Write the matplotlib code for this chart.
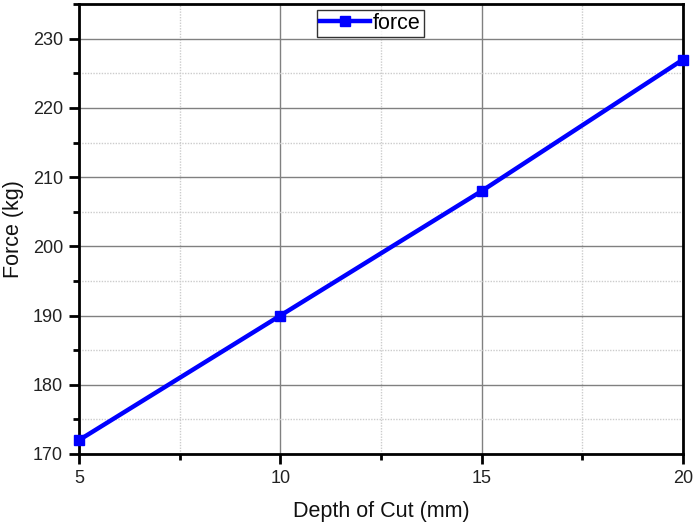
import matplotlib
matplotlib.use("Agg")
import matplotlib.pyplot as plt
from matplotlib.ticker import MultipleLocator

depth = [5, 10, 15, 20]
force = [172, 190, 208, 227]

plt.rcParams['font.family'] = ['Liberation Sans', 'DejaVu Sans']

fig = plt.figure(figsize=(6.93, 5.23), dpi=100)
ax = fig.add_axes([0.114, 0.132, 0.8716, 0.860])

ax.plot(depth, force, color='#0000ff', lw=3.2, marker='s', ms=7, label='force', clip_on=False, zorder=3)

ax.set_xlim(5, 20)
ax.set_ylim(170, 235)
ax.xaxis.set_major_locator(MultipleLocator(5))
ax.xaxis.set_minor_locator(MultipleLocator(2.5))
ax.yaxis.set_major_locator(MultipleLocator(10))
ax.yaxis.set_minor_locator(MultipleLocator(5))

ax.grid(which='major', color='#808080', lw=1.0, ls='-')
ax.grid(which='minor', color='#cccccc', lw=1.0, ls=(0, (1, 1)))
ax.set_axisbelow(True)

for s in ax.spines.values():
    s.set_linewidth(2.0)
    s.set_color('black')

ax.tick_params(which='major', direction='out', length=7.5, width=2, labelsize=13, labelcolor='#222222',
               colors='black', top=False, right=False, pad=4)
ax.tick_params(which='minor', direction='out', length=4, width=2, top=False, right=False)

ax.set_xlabel('Depth of Cut (mm)', fontsize=15.5, labelpad=10, color='#111111')
ax.set_ylabel('Force (kg)', fontsize=15.5, labelpad=6, color='#111111')

leg = ax.legend(loc='upper center', bbox_to_anchor=(0.483, 1.0), fontsize=15.5, frameon=True, fancybox=False,
                edgecolor='black', handlelength=2.3, borderpad=0.15, handletextpad=0.15, borderaxespad=0.25)
leg.get_frame().set_linewidth(1.0)

fig.savefig('out.png', dpi=100)
